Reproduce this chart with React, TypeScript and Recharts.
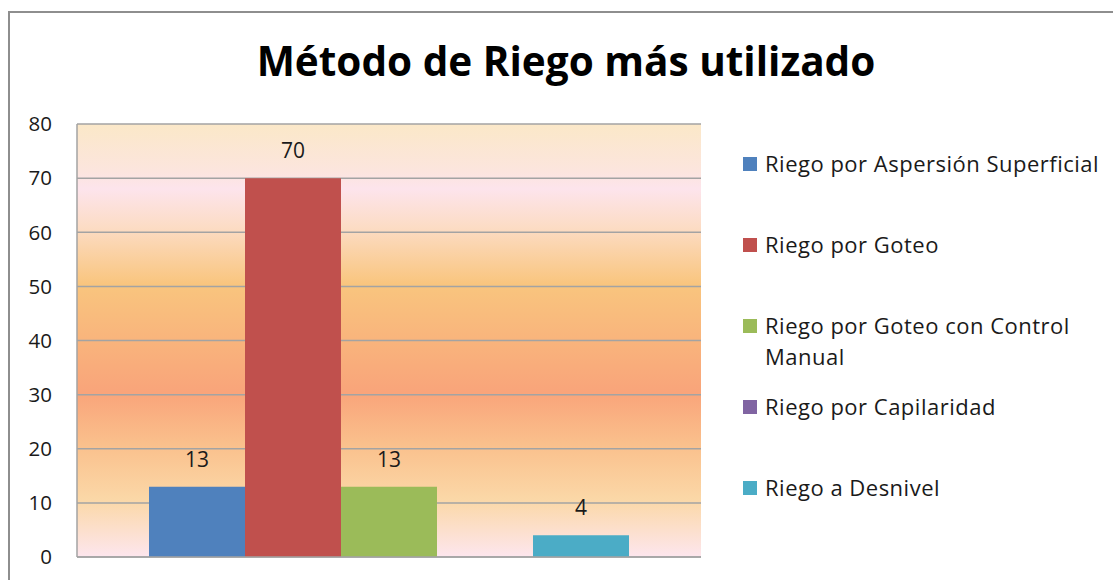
import React from "react";
import { Bar, BarChart, CartesianGrid, LabelList, Legend, XAxis, YAxis } from "recharts";

const title = "Método de Riego más utilizado";
const seriesNames = [
  "Riego por Aspersión Superficial",
  "Riego por Goteo",
  "Riego por Goteo con Control Manual",
  "Riego por Capilaridad",
  "Riego a Desnivel",
];
const seriesValues = [13, 70, 13, 0, 4];
const seriesColors = ["#4F81BD", "#C0504D", "#9BBB59", "#8064A2", "#4BACC6"];
const yTicks = [0, 10, 20, 30, 40, 50, 60, 70, 80];

const keys = seriesNames.map((_, i) => `s${i}`);
const data = [
  keys.reduce((row: Record<string, any>, k, i) => {
    row[k] = seriesValues[i];
    return row;
  }, { cat: "" }),
];

const FONT = "'Open Sans', Lato, sans-serif";

function LegendBox({ payload }: any) {
  // keep the series order, not the alphabetical one
  const items = [...(payload || [])].sort(
    (a: any, b: any) => seriesNames.indexOf(a.value) - seriesNames.indexOf(b.value)
  );
  return (
    <div style={{ position: "relative", fontFamily: FONT }}>
      {items.map((p: any, i: number) => (
        <div
          key={i}
          style={{ position: "absolute", left: 0, top: i * 81, display: "flex", alignItems: "flex-start" }}
        >
          <span
            style={{ width: 14, height: 14, background: p.color, marginTop: 9, marginRight: 8, flex: "none" }}
          />
          <span
            style={{ width: 350, fontSize: 22, letterSpacing: 0.5, lineHeight: "31px", color: "#1a1a1a" }}
          >
            {p.value}
          </span>
        </div>
      ))}
    </div>
  );
}

export default function App() {
  return (
    <div
      style={{
        position: "fixed",
        left: 0,
        top: 0,
        width: 1113,
        height: 580,
        background: "#fff",
        overflow: "hidden",
        fontFamily: FONT,
      }}
    >
      <div
        style={{
          position: "absolute",
          left: 8,
          top: 11,
          width: 1200,
          height: 700,
          border: "2px solid #8e8e8e",
        }}
      />
      <div
        style={{
          position: "absolute",
          left: 0,
          width: 1132,
          top: 36,
          textAlign: "center",
          fontSize: 40.5,
          fontWeight: 700,
          color: "#000",
          lineHeight: "50px",
        }}
      >
        {title}
      </div>
      <div style={{ position: "absolute", left: 0, top: 0 }}>
        <BarChart
          width={1113}
          height={580}
          data={data}
          margin={{ top: 124, right: 412, left: 0, bottom: 0 }}
          barCategoryGap={72}
          barGap={0}
        >
          <defs>
            <linearGradient id="bg" x1="0" y1="0" x2="0" y2="1">
              <stop offset="0" stopColor="#FBE8C8" />
              <stop offset="0.11" stopColor="#FCE5DE" />
              <stop offset="0.15" stopColor="#FDE4EC" />
              <stop offset="0.24" stopColor="#FCDCC4" />
              <stop offset="0.37" stopColor="#F9C57E" />
              <stop offset="0.5" stopColor="#F9B47C" />
              <stop offset="0.62" stopColor="#F9A47A" />
              <stop offset="0.74" stopColor="#FAC08C" />
              <stop offset="0.87" stopColor="#FBD8A8" />
              <stop offset="1" stopColor="#FDE6EE" />
            </linearGradient>
          </defs>
          <CartesianGrid vertical={false} fill="url(#bg)" stroke="#a3a3a3" strokeWidth={1.5} />
          <XAxis dataKey="cat" height={23} tick={false} tickLine={false} axisLine={{ stroke: "#a3a3a3", strokeWidth: 1.5 }} />
          <YAxis
            width={77}
            domain={[0, 80]}
            ticks={yTicks}
            interval={0}
            tickLine={false}
            tickSize={0}
            tickMargin={25}
            axisLine={{ stroke: "#a3a3a3", strokeWidth: 1.5 }}
            tick={{ fill: "#1a1a1a", fontSize: 20.5, fontFamily: FONT }}
          />
          <Legend
            layout="horizontal"
            align="center"
            verticalAlign="middle"
            content={<LegendBox />}
            wrapperStyle={{ left: 743, top: 148, width: 370, height: 420 }}
          />
          {keys.map((k, i) => (
            <Bar key={k} dataKey={k} name={seriesNames[i]} fill={seriesColors[i]} isAnimationActive={false}>
              <LabelList
                dataKey={k}
                position="top"
                offset={20}
                formatter={(v: any) => (v ? v : "")}
                style={{ fill: "#1a1a1a", fontSize: 21, fontFamily: FONT }}
              />
            </Bar>
          ))}
        </BarChart>
      </div>
    </div>
  );
}
